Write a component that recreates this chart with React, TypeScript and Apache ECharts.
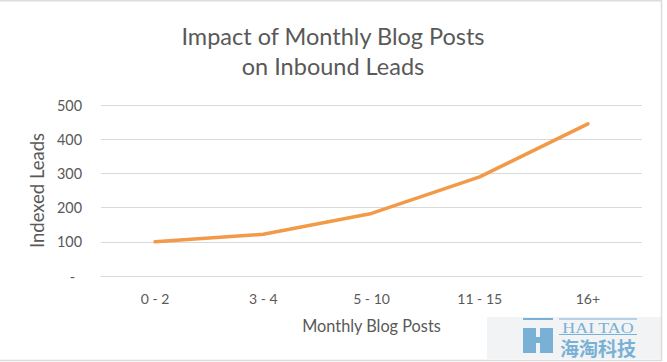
import React, { useEffect, useRef } from "react";
import * as echarts from "echarts";

const categories = ["0 - 2", "3 - 4", "5 - 10", "11 - 15", "16+"];
const leads = [100, 122, 183, 290, 445];
const titleText = "Impact of Monthly Blog Posts\non Inbound Leads";
const xName = "Monthly Blog Posts";
const yName = "Indexed Leads";

const FONT = "Lato, 'Liberation Sans', sans-serif";
const GREY = "#595959";
const WM = "#78b0d6";

export default function App() {
  const ref = useRef<HTMLDivElement>(null);
  useEffect(() => {
    document.body.style.margin = "0";
    const chart = echarts.init(ref.current!, null, { renderer: "svg" });
    chart.setOption({
      animation: false,
      backgroundColor: "#ffffff",
      textStyle: { fontFamily: FONT },
      title: {
        text: titleText,
        left: 328,
        textAlign: "center",
        top: 16,
        textStyle: { fontFamily: FONT, fontSize: 23.5, fontWeight: "normal", color: GREY, lineHeight: 30 },
      },
      grid: { left: 101, right: 25, top: 105, bottom: 86 },
      xAxis: {
        type: "category",
        data: categories,
        boundaryGap: true,
        axisLine: { show: true, lineStyle: { color: "#d9d9d9", width: 1 } },
        axisTick: { show: false },
        axisLabel: { color: GREY, fontSize: 14, margin: 15, fontFamily: FONT },
        name: xName,
        nameLocation: "middle",
        nameGap: 41,
        nameTextStyle: { color: GREY, fontSize: 16.3, fontFamily: FONT },
      },
      yAxis: {
        type: "value",
        min: 0,
        max: 500,
        interval: 100,
        axisLine: { show: false },
        axisTick: { show: false },
        splitLine: { lineStyle: { color: "#d9d9d9", width: 1 } },
        axisLabel: {
          color: GREY,
          fontSize: 14.4,
          margin: 19,
          fontFamily: FONT,
          formatter: (v: number) => (v === 0 ? "{d|-}" : String(v)),
          rich: { d: { color: GREY, fontSize: 14.4, padding: [0, 7, 0, 0], fontFamily: FONT } },
        },
        name: yName,
        nameLocation: "middle",
        nameGap: 55,
        nameRotate: 90,
        nameTextStyle: { color: GREY, fontSize: 18.5, fontFamily: FONT },
      },
      series: [
        {
          type: "line",
          data: leads,
          showSymbol: false,
          symbol: "none",
          lineStyle: { color: "#f29a48", width: 3.5, cap: "round", join: "round" },
          itemStyle: { color: "#f29a48" },
        },
      ],
      graphic: [
        {
          type: "polyline",
          shape: { points: [[0, 0.75], [661.5, 0.75], [661.5, 360.5], [0, 360.5]] },
          style: { fill: "none", stroke: "#dcdcdc", lineWidth: 1.5 },
          z: 100,
        },
        {
          type: "group",
          z: 200,
          children: [
            { type: "rect", shape: { x: 487, y: 317, width: 174, height: 42 }, style: { fill: "#f1f3f5" } },
            { type: "rect", shape: { x: 523, y: 318, width: 30, height: 2 }, style: { fill: WM } },
            { type: "rect", shape: { x: 523, y: 328, width: 13, height: 25 }, style: { fill: WM } },
            { type: "rect", shape: { x: 540, y: 328, width: 13, height: 25 }, style: { fill: WM } },
            { type: "rect", shape: { x: 536, y: 337, width: 4, height: 6 }, style: { fill: WM } },
            { type: "rect", shape: { x: 559, y: 318.5, width: 78, height: 1 }, style: { fill: WM } },
            {
              type: "text",
              x: 598,
              y: 328,
              scaleX: 1.28,
              style: {
                text: "HAI TAO",
                fill: WM,
                font: "14px 'Liberation Serif', 'DejaVu Serif', serif",
                textAlign: "center",
                textVerticalAlign: "middle",
              },
            },
            { type: "rect", shape: { x: 559, y: 334, width: 78, height: 1 }, style: { fill: WM } },
            {
              type: "text",
              x: 598,
              y: 347,
              style: {
                text: "海淘科技",
                fill: WM,
                font: "bold 19px 'Noto Sans CJK SC', sans-serif",
                textAlign: "center",
                textVerticalAlign: "middle",
              },
            },
          ],
        },
      ],
    });
    return () => chart.dispose();
  }, []);
  return <div ref={ref} style={{ width: 667, height: 362 }} />;
}
